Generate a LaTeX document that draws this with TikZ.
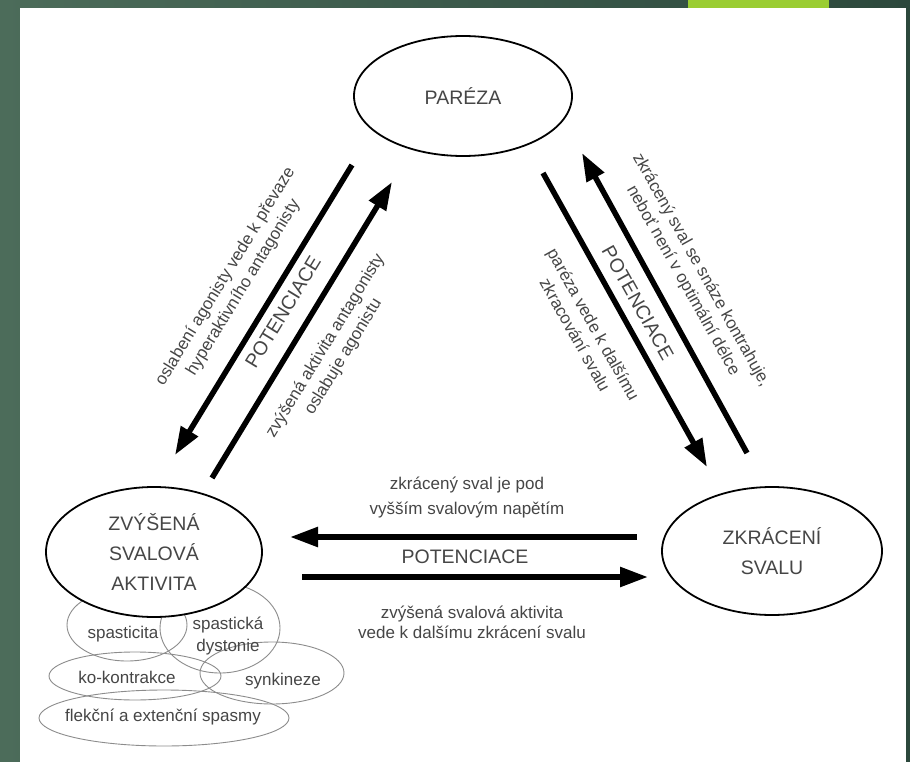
\documentclass[tikz,border=0pt]{standalone}
\usepackage{fontspec}
\setmainfont{Liberation Sans}
\usetikzlibrary{shapes.geometric,arrows.meta}
\definecolor{bgA}{RGB}{76,108,90}
\definecolor{bgB}{RGB}{44,72,60}
\definecolor{lime}{RGB}{154,205,50}
\definecolor{txt}{RGB}{70,70,70}
\tikzset{
  bigellipse/.style={ellipse, draw=black, line width=1.8pt, fill=white, inner sep=0pt, text=txt, align=center, font={\fontsize{19.5}{30}\selectfont}},
  smallellipse/.style={ellipse, draw=black!45, line width=0.9pt, inner sep=0pt},
  smalltext/.style={text=txt, font={\fontsize{17}{21}\selectfont}, align=center, inner sep=0pt},
  captext/.style={text=txt, font={\fontsize{19.5}{24}\selectfont}, inner sep=0pt},
  bigarrow/.style={line width=5.5pt, -{Triangle[length=28pt,width=19pt]}, shorten >=0pt},
}
\begin{document}
\begin{tikzpicture}[x=1pt,y=-1pt]
\useasboundingbox (0,0) rectangle (910,762);
\shade[left color=bgA, right color=bgB] (0,0) rectangle (910,762);
\fill[white] (20,8) rectangle (906,762);
\fill[lime] (688,0) rectangle (829,8);

% small ellipses
\node[smallellipse, minimum width=120pt, minimum height=72pt] (spa) at (127,625) {};
\node[smallellipse, minimum width=120pt, minimum height=90pt] (dys) at (220,628) {};
\node[smallellipse, minimum width=172pt, minimum height=48pt] (kok) at (135,676) {};
\node[smallellipse, minimum width=144pt, minimum height=62pt] (syn) at (272,673) {};
\node[smallellipse, minimum width=250pt, minimum height=56pt] (fle) at (164,718) {};
\node[smalltext] (tspa) at (123,634) {spasticita};
\node[smalltext] (tdys) at (228,636) {spastická\\dystonie};
\node[smalltext] (tkok) at (127,677) {ko-kontrakce};
\node[smalltext] (tsyn) at (283,681) {synkineze};
\node[smalltext] (tfle) at (163,717) {flekční a extenční spasmy};

% main ellipses
\node[bigellipse, minimum width=218pt, minimum height=120pt] (par) at (463,96) {PARÉZA};
\node[bigellipse, minimum width=216pt, minimum height=130pt] (zvy) at (154,552) {ZVÝŠENÁ\\SVALOVÁ\\AKTIVITA};
\node[bigellipse, minimum width=220pt, minimum height=128pt] (zkr) at (772,551) {ZKRÁCENÍ\\SVALU};

% arrow end points
\coordinate (l1s) at (352,165); \coordinate (l1e) at (175,455);
\coordinate (l2s) at (212,478); \coordinate (l2e) at (392,182);
\coordinate (r1s) at (543,173); \coordinate (r1e) at (707,467);
\coordinate (r2s) at (747,453); \coordinate (r2e) at (582,153);
\coordinate (h1s) at (637,537); \coordinate (h1e) at (290,537);
\coordinate (h2s) at (302,577); \coordinate (h2e) at (648,577);

\draw[bigarrow] (l1s) -- (l1e);
\draw[bigarrow] (l2s) -- (l2e);
\draw[bigarrow] (r1s) -- (r1e);
\draw[bigarrow] (r2s) -- (r2e);
\draw[bigarrow] (h1s) -- (h1e);
\draw[bigarrow] (h2s) -- (h2e);

% labels left
\node[smalltext, rotate=58.6] (lab1) at (234.5,282) {oslabení agonisty vede k převaze\\hyperaktivního antagonisty};
\node[captext, rotate=58.6] (pot1) at (283,312) {POTENCIACE};
\node[smalltext, rotate=58.6] (lab2) at (334.5,351.5) {zvýšená aktivita antagonisty\\oslabuje agonistu};
% labels right
\node[smalltext, rotate=-60.8] (lab3) at (584.5,329.5) {paréza vede k dalšímu\\zkracování svalu};
\node[captext, rotate=-60.8] (pot2) at (638,303) {POTENCIACE};
\node[smalltext, rotate=-60.8] (lab4) at (692,275.5) {zkrácený sval se snáze kontrahuje,\\neboť není v optimální délce};
% labels horizontal
\node[smalltext, font={\fontsize{17}{25}\selectfont}] (lab5) at (467,497.5) {zkrácený sval je pod\\vyšším svalovým napětím};
\node[captext] (pot3) at (465,557) {POTENCIACE};
\node[smalltext, font={\fontsize{17}{20}\selectfont}] (lab6) at (472,622.5) {zvýšená svalová aktivita\\vede k dalšímu zkrácení svalu};
\end{tikzpicture}
\end{document}
